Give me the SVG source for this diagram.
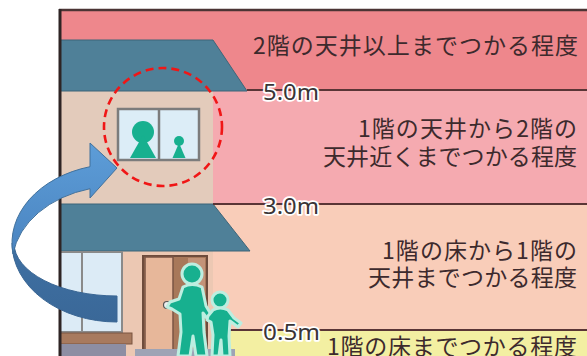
<svg xmlns="http://www.w3.org/2000/svg" width="587" height="356" viewBox="0 0 587 356">
  <defs>
    <linearGradient id="arrowFront" x1="0" y1="0" x2="0" y2="1">
      <stop offset="0" stop-color="#5d9dd8"/>
      <stop offset="1" stop-color="#4a84c0"/>
    </linearGradient>
    <linearGradient id="arrowBack" x1="0" y1="0" x2="0" y2="1">
      <stop offset="0" stop-color="#3f70a3"/>
      <stop offset="1" stop-color="#3a6898"/>
    </linearGradient>
    <style>
      .level { stroke: #5a3536; stroke-width: 1.8; fill: none; }
      .roof { fill: #4f8098; stroke: #3d6579; stroke-width: 1; }
      .glass { fill: #dcedf7; stroke: #7c7c7c; stroke-width: 2.5; }
      .person { fill: #17b08f; }
      .person-halo { fill: #17b08f; stroke: #bdeee0; stroke-width: 3; stroke-linejoin: round; }
      .note { font-family: "Noto Sans CJK JP", "Noto Sans", sans-serif; font-size: 23px; fill: #3d2a2d; }
      .mark { font-family: "Noto Sans", "Noto Sans CJK JP", sans-serif; font-size: 22px; fill: #3a3536;
              stroke: #ffffff; stroke-width: 3.5; stroke-linejoin: round; paint-order: stroke; }
    </style>
  </defs>

  <rect width="587" height="356" fill="#ffffff"/>

  <!-- water depth bands -->
  <g id="bands">
    <rect x="60" y="10" width="527" height="80" fill="#ee878c"/>
    <rect x="60" y="90" width="527" height="114" fill="#f5aab0"/>
    <rect x="60" y="204" width="527" height="126" fill="#f9cdb9"/>
    <rect x="60" y="330" width="527" height="26" fill="#f3efa2"/>
  </g>

  <!-- house -->
  <g id="house">
    <rect x="60" y="91" width="153" height="113" fill="#e3cbbb"/>
    <polygon class="roof" points="60,40 213,40 247,91 60,91"/>
    <g id="upper-window">
      <rect class="glass" x="118" y="109" width="81" height="51"/>
      <line x1="159" y1="109" x2="159" y2="160" stroke="#7c7c7c" stroke-width="2.5"/>
      <circle class="person" cx="143" cy="132" r="11"/>
      <polygon class="person" points="143,135 156,158 130,158"/>
      <circle class="person" cx="179" cy="141" r="5"/>
      <polygon class="person" points="179,143 185.5,158 172.5,158"/>
    </g>
    <rect x="60" y="251" width="153" height="105" fill="#ecc8b3"/>
    <polygon class="roof" points="60,204 213,204 250,251 60,251"/>
    <g id="lower-window">
      <rect x="60" y="252" width="62" height="80" fill="#dcebf6" stroke="#8a8a8a" stroke-width="2"/>
      <line x1="82" y1="252" x2="82" y2="332" stroke="#8a8a8a" stroke-width="2"/>
      <rect x="60" y="333" width="72" height="11" fill="#a87a5e" stroke="#7a5440" stroke-width="1"/>
      <rect x="60" y="344" width="66" height="12" fill="#8d8ea3"/>
    </g>
    <g id="door">
      <rect x="143" y="256" width="64" height="100" fill="#a8785a" stroke="#6e4c3c" stroke-width="2"/>
      <rect x="188" y="258" width="17" height="98" fill="#c39378"/>
      <rect x="145" y="257" width="28" height="99" fill="#e7b79a" stroke="#7a5444" stroke-width="1.5"/>
      <circle cx="167" cy="305" r="3.5" fill="#eeeeee" stroke="#555555" stroke-width="1.2"/>
      <rect x="135" y="349" width="100" height="7" fill="#9ea3b5"/>
    </g>
  </g>

  <!-- level lines -->
  <g id="levels">
    <line class="level" x1="247" y1="90" x2="587" y2="90"/>
    <line class="level" x1="213" y1="204" x2="587" y2="204"/>
    <line class="level" x1="228" y1="330" x2="587" y2="330"/>
  </g>

  <!-- frame -->
  <g id="frame">
    <line x1="59" y1="10" x2="587" y2="10" stroke="#4b3434" stroke-width="2.5"/>
    <line x1="60" y1="9" x2="60" y2="356" stroke="#2e2424" stroke-width="3"/>
  </g>

  <!-- family leaving through the door -->
  <g id="family">
    <g class="person-halo">
      <circle cx="192" cy="274" r="10"/>
      <path d="M183,287 Q192,282 202,287 L206,306 L212,316 L209,321 L203,313 L204,332 L207,356 L196,356 L193,336 L190,356 L178,356 L181,332 L180,314 L172,309 L167,307 L170,302 L179,299 Z"/>
      <circle cx="220" cy="300" r="8"/>
      <path d="M213,310 Q220,306 228,310 L234,318 L241,323 L238,327 L230,321 L229,336 L230,356 L222,356 L221,340 L219,356 L212,356 L213,335 L211,322 L207,320 L208,316 Z"/>
    </g>
  </g>

  <!-- highlight ring -->
  <circle id="focus-ring" cx="163" cy="127" r="59" fill="none" stroke="#f01616" stroke-width="2.6" stroke-dasharray="8 5"/>

  <!-- curved arrow -->
  <g id="connectors">
    <path d="M117,322 A105,79 0 0 1 12,243 L14,243 A103,53 0 0 0 117,296 Z" fill="url(#arrowBack)" stroke="#3a6694" stroke-width="1"/>
    <path d="M13,254 A105,79 0 0 1 90,166.7 L90,143 L117,168 L90,198 L90,188.7 A105,79 0 0 0 13,254 Z" fill="url(#arrowFront)" stroke="#41719c" stroke-width="1"/>
  </g>

  <!-- depth notes -->
  <g id="notes">
    <text class="note" x="253" y="54" textLength="325" lengthAdjust="spacing">2階の天井以上までつかる程度</text>
    <text class="note" x="358" y="137" textLength="219" lengthAdjust="spacing">1階の天井から2階の</text>
    <text class="note" x="323" y="165" textLength="254" lengthAdjust="spacing">天井近くまでつかる程度</text>
    <text class="note" x="382" y="259" textLength="195" lengthAdjust="spacing">1階の床から1階の</text>
    <text class="note" x="368" y="286" textLength="209" lengthAdjust="spacing">天井までつかる程度</text>
    <text class="note" x="327" y="355" textLength="250" lengthAdjust="spacing">1階の床までつかる程度</text>
  </g>

  <!-- height marks -->
  <g id="marks">
    <text class="mark" x="263" y="100" textLength="56" lengthAdjust="spacingAndGlyphs">5.0m</text>
    <text class="mark" x="263" y="214" textLength="56" lengthAdjust="spacingAndGlyphs">3.0m</text>
    <text class="mark" x="263" y="340" textLength="57" lengthAdjust="spacingAndGlyphs">0.5m</text>
  </g>
</svg>
